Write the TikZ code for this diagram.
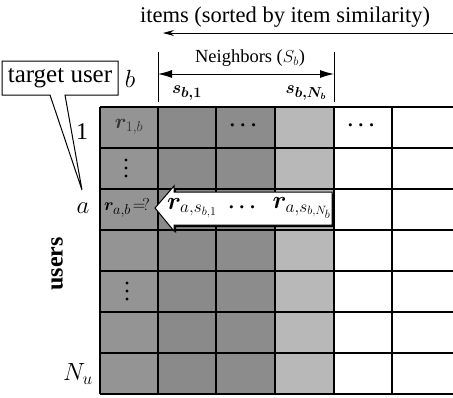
\documentclass[tikz,border=0pt]{standalone}
\usepackage{fontspec}
\setmainfont{Liberation Serif}
\usepackage{amsmath,bm}
\usetikzlibrary{arrows.meta}
\begin{document}
\begin{tikzpicture}[x=1pt,y=-1pt,
  gridline/.style={line width=1.3pt,black},
  lbl/.style={inner sep=0pt,font=\fontsize{24}{28}\selectfont},
  cell/.style={inner sep=0pt,font=\fontsize{20}{24}\selectfont},
  sl/.style={inner sep=0pt,font=\fontsize{19}{22}\selectfont},
  hdr/.style={inner sep=0pt},
  dotm/.style={fill=black,circle,inner sep=0pt,minimum size=3.2pt},
  conn/.style={line width=1pt,black}]
\useasboundingbox (0,0) rectangle (453,397);
% shaded columns
\foreach \xa/\xb/\g in {100/158/42,158/216/46,216/275/45,275/334/28}{
  \fill[black!\g] (\xa,107) rectangle (\xb,394);
}
% grid lines
\foreach \y in {107,148,189,230,271,312,353,394}{
  \draw[gridline] (100,\y) -- (453,\y);
}
\foreach \x in {100,158,216,275,334,392}{
  \draw[gridline] (\x,107) -- (\x,394);
}
% title and item arrow
\node[hdr,font=\fontsize{22.5}{26}\selectfont] (items) at (285,17) {items (sorted by item similarity)};
\coordinate (iR) at (453,33);
\coordinate (iL) at (163,33);
\draw[conn,-{Stealth[length=11pt,width=6pt]}] (iR) -- (iL);
% neighbors bracket
\coordinate (n1t) at (158,52); \coordinate (n1b) at (158,102);
\coordinate (n2t) at (334,52); \coordinate (n2b) at (334,102);
\draw[conn] (n1t) -- (n1b);
\draw[conn] (n2t) -- (n2b);
\coordinate (na) at (158,74); \coordinate (nb) at (334,74);
\draw[conn,{Latex[length=14pt,width=8pt]}-{Latex[length=14pt,width=8pt]}] (na) -- (nb);
\node[hdr,font=\fontsize{18.5}{22}\selectfont] (nbr) at (250,58) {Neighbors ($S_b$)};
\node[sl] (s1) at (187,93) {$\bm{s_{b,1}}$};
\node[sl] (sN) at (306,93) {$\bm{s_{b,N_b}}$};
% target user callout
\node[lbl,font=\fontsize{25}{28}\selectfont] (tu) at (60,78) {target user};
\coordinate (c1) at (2,61); \coordinate (c2) at (118,61);
\coordinate (c3) at (118,95); \coordinate (c4) at (65,95);
\coordinate (tip) at (82,190);
\coordinate (c5) at (50,95); \coordinate (c6) at (2,95);
\draw[line width=1pt] (c1) -- (c2) -- (c3) -- (c4) -- (tip) -- (c5) -- (c6) -- cycle;
% row / column labels
\node[lbl] (b) at (130,79) {$b$};
\node[lbl] (r1) at (82,132) {1};
\node[lbl] (ra) at (83,208) {$a$};
\node[lbl] (rN) at (78,374) {$N_u$};
\node[lbl,font=\bfseries\fontsize{24}{28}\selectfont,rotate=90] (users) at (57,264) {users};
% cell contents
\node[cell,text=black!80,font=\fontsize{22}{26}\selectfont] (r1b) at (129,127) {$\bm{r}_{1,b}$};
\node[cell] (d1) at (245,126) {$\bm{\cdots}$};
\node[cell] (d2) at (363,126) {$\bm{\cdots}$};
\foreach \yy [count=\i] in {160,168,176}{
  \node[dotm] (va\i) at (126,\yy) {};
}
\foreach \yy [count=\i] in {283,291,299}{
  \node[dotm] (vb\i) at (127,\yy) {};
}
\node[cell,font=\fontsize{19}{24}\selectfont] (rab) at (127,208) {$\bm{r}_{a,b}\!=\!?$};
% white arrow
\coordinate (at) at (155,208);
\coordinate (ah1) at (174,186); \coordinate (ab1) at (174,192);
\coordinate (ae1) at (332,192); \coordinate (ae2) at (332,225);
\coordinate (ab2) at (174,225); \coordinate (ah2) at (174,231);
\fill[black] ([shift={(2,2)}]at) -- ([shift={(2,2)}]ah1) -- ([shift={(2,2)}]ab1) -- ([shift={(2,2)}]ae1) -- ([shift={(2,2)}]ae2) -- ([shift={(2,2)}]ab2) -- ([shift={(2,2)}]ah2) -- cycle;
\draw[fill=white,line width=1pt] (at) -- (ah1) -- (ab1) -- (ae1) -- (ae2) -- (ab2) -- (ah2) -- cycle;
\node[cell,font=\fontsize{23}{26}\selectfont] (ras1) at (192,208) {$\bm{r}_{a,s_{b,1}}$};
\node[cell] (d3) at (244,208) {$\bm{\cdots}$};
\node[cell,font=\fontsize{23}{26}\selectfont] (rasN) at (302,208) {$\bm{r}_{a,s_{b,N_b}}$};
\end{tikzpicture}
\end{document}
